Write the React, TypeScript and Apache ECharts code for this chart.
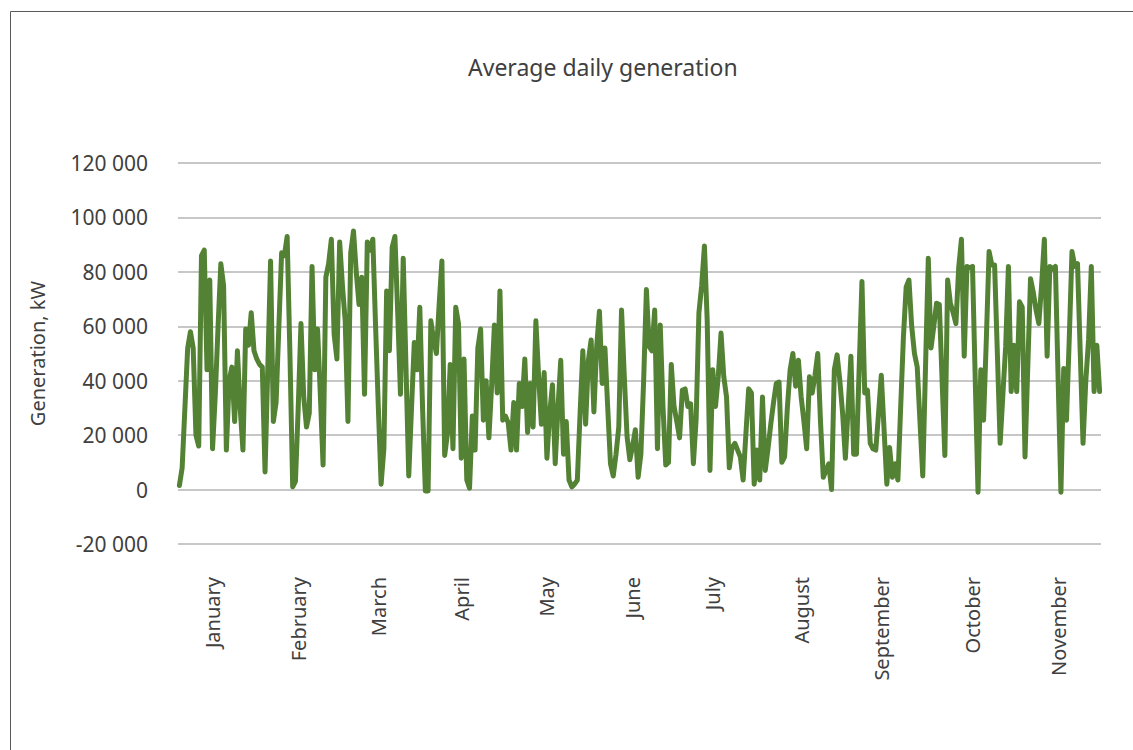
import React, { useEffect, useRef } from "react";
import * as echarts from "echarts";

// Average daily generation, kW — one value per day, 1 January … 30 November
const generation: number[] = [
  1500, 8000, 30000, 52000, 58000, 52000, 20000, 16000, 86000, 88000,
  44000, 77000, 15000, 35000, 60000, 83000, 75000, 14500, 40000, 45000,
  25000, 51000, 30000, 14500, 59000, 53000, 65000, 51000, 48000, 46000,
  45000, 6500, 45000, 84000, 25000, 32000, 60000, 87000, 86000, 93000,
  50000, 1000, 3000, 30000, 61000, 34000, 23000, 28000, 82000, 44000,
  59000, 35000, 9000, 78000, 83000, 92000, 57000, 48000, 91000, 75000,
  62000, 25000, 87000, 95000, 80000, 68000, 78000, 35000, 91000, 88000,
  92000, 60000, 30000, 2000, 15000, 73000, 51000, 89000, 93000, 65000,
  35000, 85000, 45000, 5000, 30000, 54000, 44000, 67000, 30000, -500,
  -500, 62000, 55000, 50000, 68000, 84000, 12500, 20500, 46000, 15000,
  67000, 61000, 11500, 48000, 3500, 500, 27000, 14500, 52000, 59000,
  25500, 40000, 19000, 38500, 60500, 35500, 73000, 25500, 27000, 24500,
  14500, 32000, 14500, 39000, 30500, 48000, 21000, 39000, 23000, 62000,
  41500, 24000, 43000, 11500, 28000, 38500, 9500, 30000, 47500, 13000,
  25000, 3500, 1000, 2000, 3500, 28000, 51000, 24000, 47500, 55000,
  28500, 52500, 65500, 39000, 52000, 30000, 9500, 5000, 13000, 23000,
  66000, 41500, 19500, 11000, 16000, 22000, 4500, 13000, 40000, 73500,
  52500, 51000, 66000, 15000, 60500, 30500, 9000, 10000, 46000, 30500,
  25000, 19000, 36500, 37000, 30500, 31500, 9500, 26000, 65000, 75000,
  89500, 62000, 7000, 44000, 30500, 41500, 57500, 41500, 34000, 8000,
  15500, 17000, 14500, 12000, 3500, 20500, 37000, 35500, 2000, 14500,
  3500, 34000, 7000, 15000, 24000, 32000, 39000, 39500, 10000, 12000,
  30000, 44000, 50000, 38000, 47500, 34000, 25000, 15000, 41500, 35500,
  42000, 50000, 25000, 4500, 7000, 9500, 0, 44000, 49500, 40000,
  28000, 11500, 30000, 49000, 13000, 13000, 45000, 76500, 35500, 36500,
  17000, 15000, 14500, 28000, 42000, 22000, 2000, 15500, 4500, 9500,
  3500, 30000, 56000, 74500, 77000, 60000, 50000, 45000, 25000, 5000,
  45000, 85000, 52000, 60000, 68500, 68000, 40000, 12500, 77000, 68500,
  65000, 61000, 81500, 92000, 49000, 82000, 81500, 82000, 40000, -1000,
  44000, 25500, 55000, 87500, 82500, 82500, 50000, 17000, 35000, 52500,
  82000, 36000, 53000, 36000, 69000, 67000, 12000, 45000, 77500, 72500,
  66000, 61000, 75000, 92000, 49000, 82000, 81000, 82000, 40000, -1000,
  44500, 25500, 55000, 87500, 82000, 83000, 50000, 17000, 40000, 55000,
  82000, 36000, 53000, 36000,
];

const monthNames: string[] = [
  "January", "February", "March", "April", "May", "June",
  "July", "August", "September", "October", "November",
];
// day index (0-based) at which each month's label sits
const monthLabelIndex: number[] = [12, 43, 72, 102, 133, 164, 193, 225, 254, 287, 318];

const yMin = -20000;
const yMax = 120000;
const yStep = 20000;

const FONT = "'Noto Sans', 'Open Sans', sans-serif";
const TEXT = "#404040";

function fmt(v: number): string {
  const s = Math.abs(v).toString().replace(/\B(?=(\d{3})+(?!\d))/g, " ");
  return (v < 0 ? "-" : "") + s;
}

export default function App() {
  const ref = useRef<HTMLDivElement>(null);
  useEffect(() => {
    document.body.style.margin = "0";
    const chart = echarts.init(ref.current!, null, { renderer: "svg" });
    const categories = generation.map((_, i) => {
      const k = monthLabelIndex.indexOf(i);
      return k >= 0 ? monthNames[k] : "";
    });
    chart.setOption({
      animation: false,
      backgroundColor: "#ffffff",
      title: {
        text: "Average daily generation",
        left: 463,
        top: 50,
        textStyle: { fontFamily: FONT, fontSize: 23, fontWeight: "normal", color: TEXT },
      },
      graphic: [
        {
          type: "rect",
          shape: { x: 10.5, y: 11.5, width: 1300, height: 900 },
          style: { fill: "none", stroke: "#595959", lineWidth: 1 },
          silent: true,
        },
      ],
      grid: { left: 178, right: 32, top: 163, bottom: 206, containLabel: false },
      xAxis: {
        type: "category",
        data: categories,
        boundaryGap: true,
        axisLine: { show: false, onZero: false },
        axisTick: { show: false },
        splitLine: { show: false },
        axisLabel: {
          interval: (idx: number) => monthLabelIndex.indexOf(idx) >= 0,
          rotate: 90,
          margin: 33,
          fontFamily: FONT,
          fontSize: 20,
          color: TEXT,
        },
      },
      yAxis: {
        type: "value",
        min: yMin,
        max: yMax,
        interval: yStep,
        name: "Generation, kW",
        nameLocation: "middle",
        nameGap: 131,
        nameTextStyle: { fontFamily: FONT, fontSize: 20, color: TEXT },
        axisLine: { show: false },
        axisTick: { show: false },
        splitLine: { lineStyle: { color: "#b4b4b4", width: 1.5 } },
        axisLabel: {
          formatter: fmt,
          margin: 30,
          fontFamily: FONT,
          fontSize: 21,
          color: TEXT,
        },
      },
      series: [
        {
          type: "line",
          data: generation,
          symbol: "none",
          smooth: false,
          lineStyle: { color: "#548235", width: 5, join: "round", cap: "round" },
        },
      ],
    });
    return () => chart.dispose();
  }, []);
  return <div ref={ref} style={{ width: 1133, height: 750 }} />;
}
